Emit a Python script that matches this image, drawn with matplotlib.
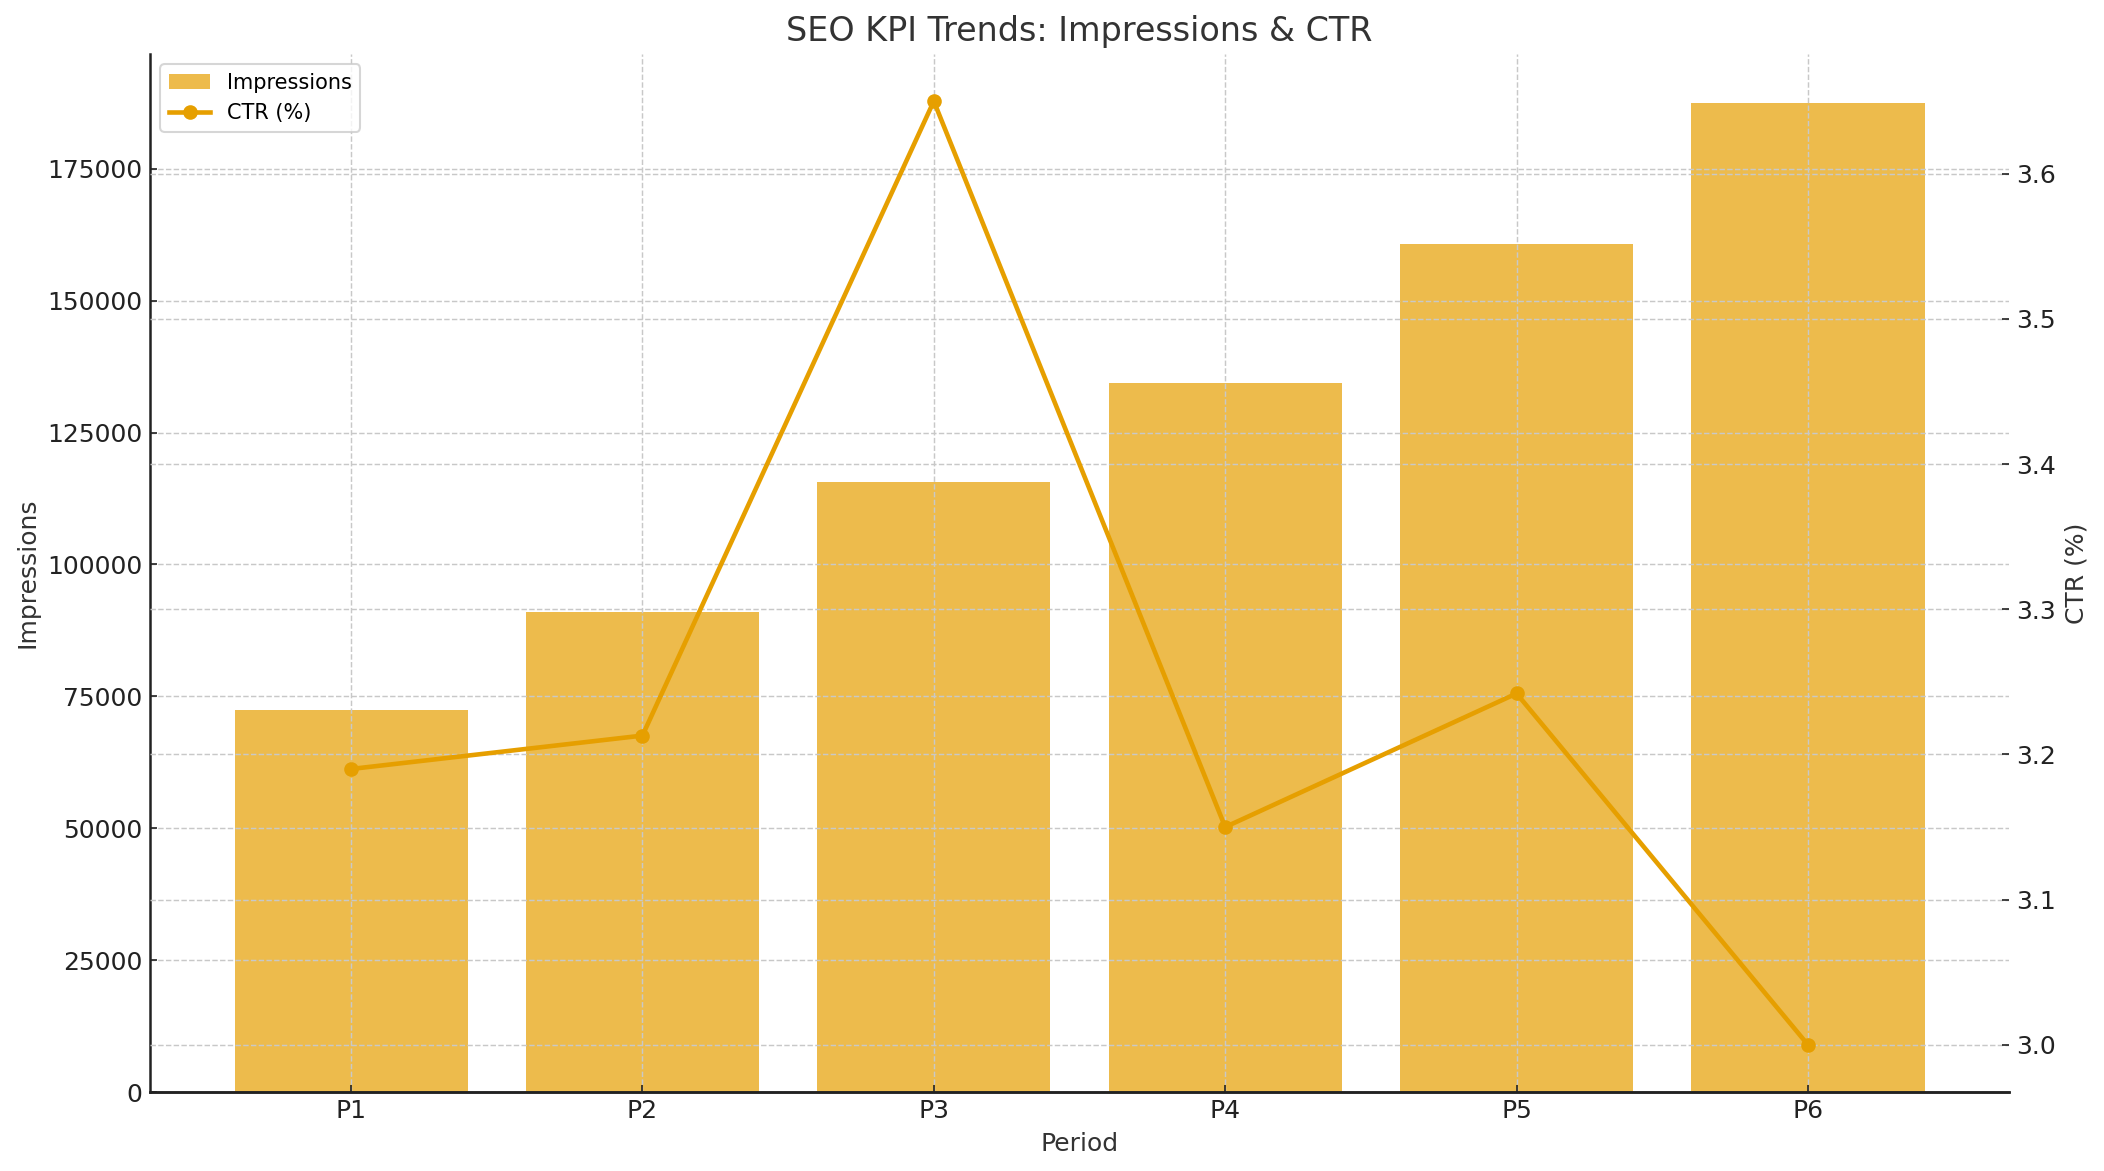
import matplotlib
matplotlib.use("Agg")
import matplotlib.pyplot as plt
import numpy as np

periods = ["P1", "P2", "P3", "P4", "P5", "P6"]
impressions = [72400, 90900, 115600, 134400, 160800, 187400]
ctr = [3.19, 3.213, 3.65, 3.15, 3.242, 3.00]

bar_color = "#E69F00"
line_color = "#E69F00"
text_color = "#222222"
grid_color = "#C8C8C8"

plt.rcParams["font.family"] = ["DejaVu Sans"]

W, H, DPI = 2104, 1171, 150
fig = plt.figure(figsize=(W / DPI, H / DPI), dpi=DPI)
ax1 = fig.add_axes([150 / W, 1 - 1092 / H, (2009 - 150) / W, (1092 - 54) / H])

x = np.arange(len(periods))
bars = ax1.bar(x, impressions, width=0.8, color=bar_color, alpha=0.7, label="Impressions")
ax1.set_xticks(x)
ax1.set_xticklabels(periods)
ax1.set_xlabel("Period", fontsize=12, color="#333333")
ax1.set_ylabel("Impressions", fontsize=12, color="#333333")
ax1.tick_params(labelsize=12, colors=text_color, direction="in")
ax1.grid(True, linestyle="--", color=grid_color, linewidth=0.7)

ax2 = ax1.twinx()
ln, = ax2.plot(x, ctr, color=line_color, marker="o", linewidth=2.2, markersize=6, label="CTR (%)")
ax2.set_ylabel("CTR (%)", fontsize=12, color="#333333")
ax2.tick_params(labelsize=12, colors=text_color, direction="in")
ax2.grid(True, axis="y", linestyle="--", color=grid_color, linewidth=0.7)

for ax in (ax1, ax2):
    ax.spines["top"].set_visible(False)
    ax.spines["right"].set_visible(False)
    ax.spines["left"].set_color(text_color)
    ax.spines["bottom"].set_color(text_color)
    ax.spines["left"].set_linewidth(1.2)
    ax.spines["bottom"].set_linewidth(1.2)
ax2.spines["left"].set_visible(False)

ax1.set_title("SEO KPI Trends: Impressions & CTR", fontsize=16, color="#333333")

ax1.legend([bars, ln], ["Impressions", "CTR (%)"], loc="upper left", fontsize=10)

fig.savefig("out.png", dpi=DPI)
